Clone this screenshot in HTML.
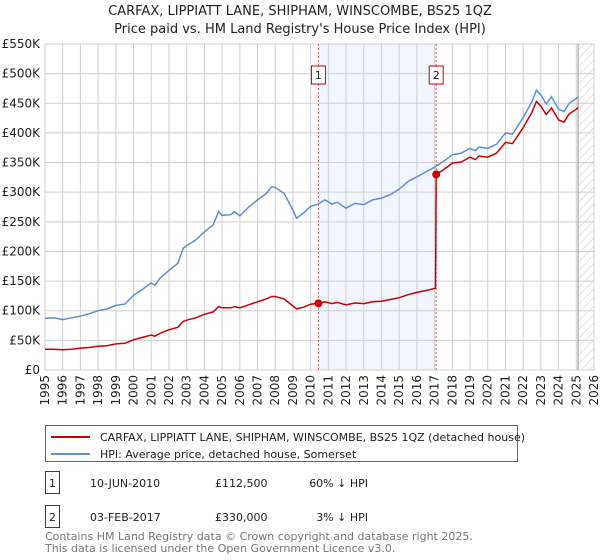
<!DOCTYPE html>
<html><head><meta charset="utf-8"><style>
body{margin:0;background:#fff;font-family:"Liberation Sans","DejaVu Sans",sans-serif}
svg{display:block}
text{font-family:"DejaVu Sans","Liberation Sans",sans-serif}
</style></head><body>
<svg id="c" width="600" height="560"></svg>
<script>
const years=[1995,1996,1997,1998,1999,2000,2001,2002,2003,2004,2005,2006,2007,2008,2009,2010,2011,2012,2013,2014,2015,2016,2017,2018,2019,2020,2021,2022,2023,2024,2025,2026];
const yTicks=[0,50,100,150,200,250,300,350,400,450,500,550];
const yLabels=["£0","£50K","£100K","£150K","£200K","£250K","£300K","£350K","£400K","£450K","£500K","£550K"];
const times=[1995.0,1995.5,1996.0,1996.5,1997.0,1997.5,1998.0,1998.5,1999.0,1999.5,2000.0,2000.5,2001.0,2001.2,2001.5,2002.0,2002.5,2002.8,2003.0,2003.5,2004.0,2004.5,2004.8,2005.0,2005.5,2005.7,2006.0,2006.5,2007.0,2007.5,2007.8,2008.0,2008.5,2009.0,2009.2,2009.6,2010.0,2010.44,2010.8,2011.2,2011.5,2012.0,2012.5,2013.0,2013.5,2014.0,2014.5,2015.0,2015.5,2016.0,2016.5,2017.05,2017.09,2017.5,2018.0,2018.5,2019.0,2019.3,2019.5,2020.0,2020.5,2021.0,2021.4,2022.0,2022.5,2022.75,2023.0,2023.3,2023.6,2024.0,2024.3,2024.6,2025.0,2025.1];
const hpiValues=[87,88,85,88,91,95,100,103,109,111,126,136,147,143,155,168,180,205,210,219,233,245,267,261,262,267,260,275,287,298,309,308,298,270,256,265,276,280,287,280,283,273,281,279,287,290,296,305,318,326,334,343,344,352,363,366,374,370,376,374,381,400,398,426,453,472,464,449,461,440,436,450,458,461];
const priceValues=[35,35,34,35,37,38,40,41,44,45,51,55,59,57,62,68,72,82,84,88,94,98,107,105,105,107,105,110,115,120,124,124,120,108,103,106,111,112.5,115,112,114,110,113,112,115,116,119,122,127,131,134,138,330,338,349,351,359,355,361,359,366,384,382,409,435,453,445,431,442,422,418,432,440,443];
const saleTimes=[2010.44,2017.09];
const saleValues=[112.5,330];
const saleLabels=["1","2"];

const NS="http://www.w3.org/2000/svg";
const svg=document.getElementById('c');
const X0=45,X1=594,Y0=370,Y1=44;
const xs=t=>X0+(t-1995)/31*(X1-X0);
const ys=v=>Y0-v/550*(Y0-Y1);
function mk(tag,attrs,parent){const e=document.createElementNS(NS,tag);for(const k in attrs)e.setAttribute(k,attrs[k]);(parent||svg).appendChild(e);return e;}

// shaded region
let sh=mk('rect',{x:xs(saleTimes[0]),y:Y1,width:xs(saleTimes[1])-xs(saleTimes[0]),height:Y0-Y1,fill:'#eef3fc',opacity:0.8});


// hatch future
const defs=mk('defs',{});
const pat=mk('pattern',{id:'h',width:6,height:6,patternUnits:'userSpaceOnUse',patternTransform:'rotate(45)'},defs);
mk('line',{x1:0,y1:0,x2:0,y2:6,stroke:'#ccc','stroke-width':1},pat);
let ht=mk('rect',{x:xs(2025.1),y:Y1,width:X1-xs(2025.1),height:Y0-Y1,fill:'url(#h)'});



// grid
years.forEach(y=>{
 let l=mk('line',{x1:xs(y),x2:xs(y),y1:Y1,y2:Y0,stroke:'#d0d0d0','stroke-width':1});
 
 
 let t=mk('text',{x:0,y:0,'font-size':12,fill:'#222','text-anchor':'end',transform:`translate(${xs(y)+4},375) rotate(-90)`});
 t.textContent=y;
 
 
});
yTicks.forEach((v,i)=>{
 let l=mk('line',{x1:X0,x2:X1,y1:ys(v),y2:ys(v),stroke:'#d0d0d0','stroke-width':1});
 
 
 let t=mk('text',{x:40,y:ys(v)+4,'font-size':12,fill:'#222','text-anchor':'end'});
 t.textContent=yLabels[i];
 
 
});
let nl=mk('line',{x1:xs(2025.1),x2:xs(2025.1),y1:Y1,y2:Y0,stroke:'#999','stroke-width':1});



// sale vlines
saleTimes.forEach((t,i)=>{
 let l=mk('line',{x1:xs(t),x2:xs(t),y1:Y1,y2:Y0,stroke:'#e06060','stroke-width':1,'stroke-dasharray':'2,2'});
 
 
 let b=mk('rect',{x:xs(t)-7,y:66,width:14,height:18,fill:'#fff',stroke:'#cc0000'});
 
 
 let tx=mk('text',{x:xs(t),y:79,'font-size':11,'text-anchor':'middle',fill:'#222'});
 tx.textContent=saleLabels[i];
 
 
});

function path(vals){return times.map((t,i)=>(i?'L':'M')+xs(t).toFixed(1)+','+ys(vals[i]).toFixed(1)).join('');}
let hp=mk('path',{d:path(hpiValues),fill:'none',stroke:'#5b8fd6','stroke-width':1.5});


let pp=mk('path',{d:path(priceValues),fill:'none',stroke:'#cc0000','stroke-width':1.5});


saleTimes.forEach((t,i)=>{
 let c=mk('circle',{cx:xs(t),cy:ys(saleValues[i]),r:4,fill:'#cc0000'});
 
 
});

// titles
let t1=mk('text',{x:300,y:15,'font-size':13,'text-anchor':'middle',fill:'#222'});t1.textContent='CARFAX, LIPPIATT LANE, SHIPHAM, WINSCOMBE, BS25 1QZ';


let t2=mk('text',{x:300,y:33,'font-size':13,'text-anchor':'middle',fill:'#222'});t2.textContent="Price paid vs. HM Land Registry's House Price Index (HPI)";



// legend
let lg=mk('rect',{x:45.5,y:425.5,width:472,height:36,fill:'#fff',stroke:'#666'});


mk('line',{x1:51,x2:90,y1:437,y2:437,stroke:'#cc0000','stroke-width':2});
mk('line',{x1:51,x2:90,y1:454,y2:454,stroke:'#5b8fd6','stroke-width':2});
let l1=mk('text',{x:100,y:441,'font-size':11,fill:'#222'});l1.textContent='CARFAX, LIPPIATT LANE, SHIPHAM, WINSCOMBE, BS25 1QZ (detached house)';


let l2=mk('text',{x:100,y:458,'font-size':11,fill:'#222'});l2.textContent='HPI: Average price, detached house, Somerset';



// table
const rows=[["1","10-JUN-2010","£112,500","60% ↓ HPI"],["2","03-FEB-2017","£330,000","3% ↓ HPI"]];
rows.forEach((r,i)=>{
 const y=483+i*34;
 let b=mk('rect',{x:45.5,y:y-11.5,width:14,height:22,fill:'#fff',stroke:'#cc0000'});
 
 
 const cells=[[52.5,'middle',r[0]],[90,'start',r[1]],[215,'start',r[2]],[368,'end',r[3]]];
 cells.forEach(c=>{let t=mk('text',{x:c[0],y:y+4,'font-size':11,'text-anchor':c[1],fill:'#222'});t.textContent=c[2];
 
 });
});
let f1=mk('text',{x:45,y:540,'font-size':11,fill:'#777'});f1.textContent='Contains HM Land Registry data © Crown copyright and database right 2025.';


let f2=mk('text',{x:45,y:552,'font-size':11,fill:'#777'});f2.textContent='This data is licensed under the Open Government Licence v3.0.';


</script>
</body></html>
